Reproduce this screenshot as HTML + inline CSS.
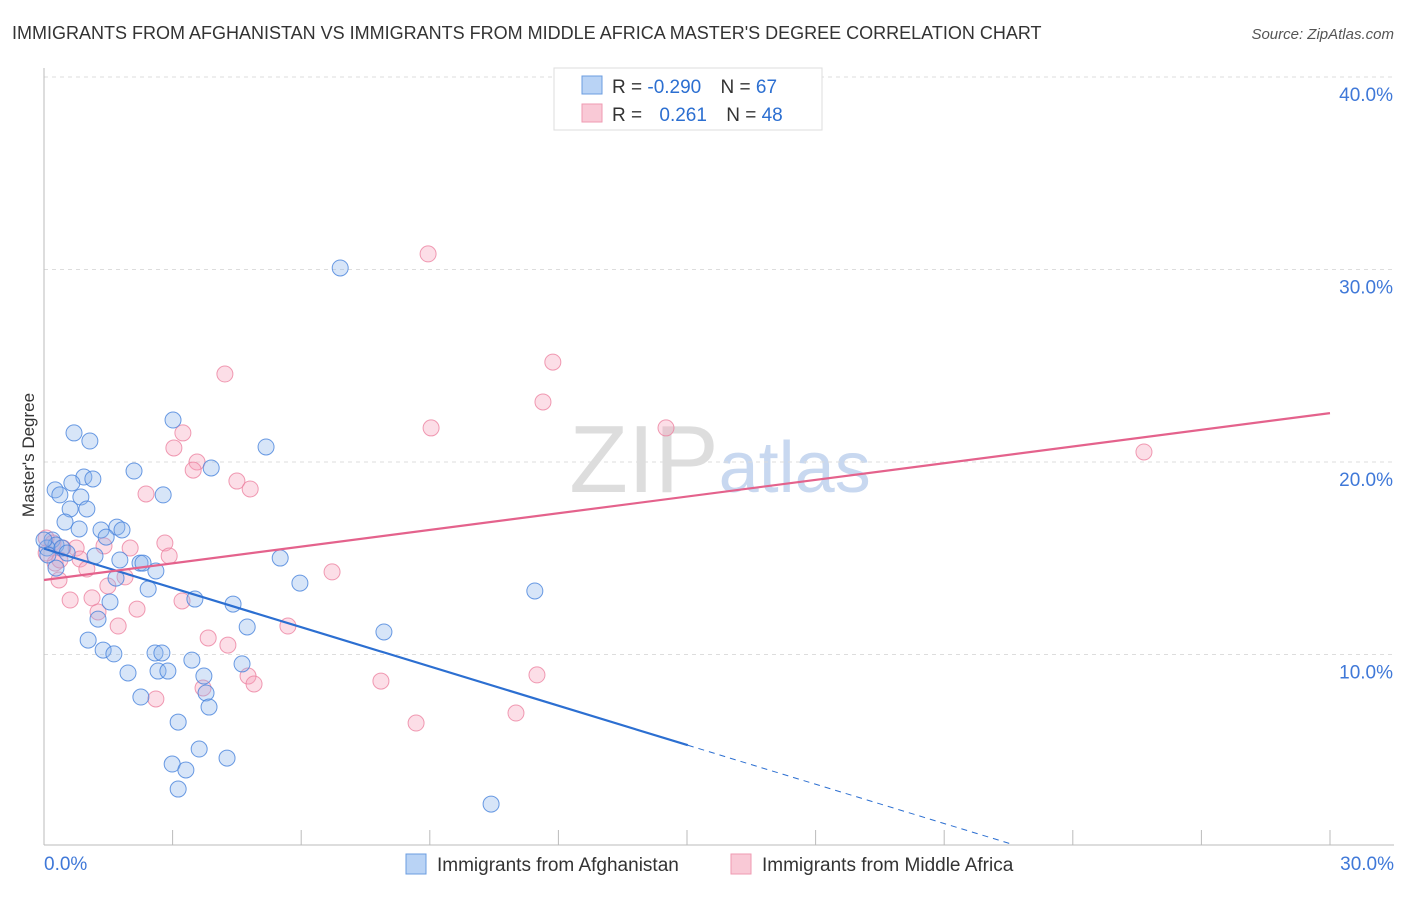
<!DOCTYPE html>
<html><head><meta charset="utf-8"><style>
body{margin:0;background:#fff;font-family:"Liberation Sans",sans-serif;}
svg text{font-family:"Liberation Sans",sans-serif;}
</style></head><body>
<svg id="chart" width="1406" height="892">
<text x="12" y="39" font-size="18" fill="#333">IMMIGRANTS FROM AFGHANISTAN VS IMMIGRANTS FROM MIDDLE AFRICA MASTER'S DEGREE CORRELATION CHART</text>
<text x="1394" y="39" font-size="15" fill="#555" font-style="italic" text-anchor="end">Source: ZipAtlas.com</text>
<text x="720" y="492" font-size="96" fill="#ddd" text-anchor="middle" font-family="Liberation Serif">ZIP<tspan fill="#c8d8f0" font-family="Liberation Sans" font-size="72">atlas</tspan></text>
<text transform="translate(34,455) rotate(-90)" font-size="17" fill="#333" text-anchor="middle">Master's Degree</text>
<g id="grid"></g><g id="pts"></g><g id="lines"></g>
<g>
<rect x="554" y="68" width="268" height="62" fill="#fff" stroke="#ddd"/>
<rect x="582" y="76" width="20" height="18" fill="#b9d3f5" stroke="#6b9de0"/>
<rect x="582" y="104" width="20" height="18" fill="#f9c9d6" stroke="#ef9ab2"/>
<text x="612" y="93" font-size="19" fill="#333">R = <tspan fill="#2c6fd1">-0.290</tspan>  <tspan dx="14">N = </tspan><tspan fill="#2c6fd1">67</tspan></text>
<text x="612" y="121" font-size="19" fill="#333">R = <tspan fill="#2c6fd1" dx="12">0.261</tspan>  <tspan dx="14">N = </tspan><tspan fill="#2c6fd1">48</tspan></text>
</g>
<g>
<rect x="406" y="854" width="20" height="20" fill="#b9d3f5" stroke="#6b9de0"/>
<text x="437" y="871" font-size="19" fill="#333">Immigrants from Afghanistan</text>
<rect x="731" y="854" width="20" height="20" fill="#f9c9d6" stroke="#ef9ab2"/>
<text x="762" y="871" font-size="19" fill="#333">Immigrants from Middle Africa</text>
</g>
</svg>
<script>
const xTicks=[0,3,6,9,12,15,18,21,24,27,30];
const yTicks=[10,20,30,40];
const bluePx=[[340,268],[173,420],[266,447],[74,433],[90,441],[211,468],[134,471],[84,477],[93,479],[72,483],[55,490],[60,495],[163,495],[81,497],[70,509],[87,509],[65,522],[79,529],[117,527],[101,530],[122,530],[106,537],[52,540],[56,545],[47,548],[62,548],[67,553],[95,556],[280,558],[120,560],[140,563],[143,563],[156,571],[56,568],[116,578],[300,583],[148,589],[535,591],[110,602],[195,599],[233,604],[98,619],[247,627],[384,632],[88,640],[103,650],[114,654],[155,653],[162,653],[128,673],[158,671],[168,671],[192,660],[242,664],[204,676],[206,693],[141,697],[209,707],[178,722],[199,749],[172,764],[186,770],[227,758],[178,789],[491,804],[44,540],[48,555]];
const pinkPx=[[428,254],[553,362],[225,374],[543,402],[431,428],[666,428],[183,433],[174,448],[197,462],[193,470],[237,481],[250,489],[146,494],[1144,452],[46,538],[53,543],[63,548],[76,548],[104,546],[130,548],[165,543],[169,556],[80,559],[55,563],[87,569],[332,572],[125,577],[108,586],[59,580],[70,600],[92,598],[182,601],[288,626],[137,609],[98,612],[118,626],[208,638],[228,645],[248,676],[254,684],[203,688],[381,681],[537,675],[156,699],[416,723],[516,713],[46,553],[60,560]];
// data values (x in %, y in %)
const blueX=bluePx.map(p=>+((p[0]-44)/1286*30).toFixed(2));
const blueY=bluePx.map(p=>+((847-p[1])/19.25).toFixed(2));
const pinkX=pinkPx.map(p=>+((p[0]-44)/1286*30).toFixed(2));
const pinkY=pinkPx.map(p=>+((847-p[1])/19.25).toFixed(2));
const blueTrend=[15.5,-0.68];
const pinkTrend=[13.87,0.289];
const NS="http://www.w3.org/2000/svg";
const sx=v=>44+v/30*1286, sy=v=>847-v*19.25;
function mk(tag,a,parent){const e=document.createElementNS(NS,tag);for(const k in a)e.setAttribute(k,a[k]);parent.appendChild(e);return e;}
const grid=document.getElementById('grid');
for(const t of yTicks){
 const l=mk('line',{x1:44,x2:1394,y1:sy(t),y2:sy(t),stroke:'#ddd','stroke-dasharray':'4,4'},grid);
 
 
 const tx=mk('text',{x:1393,y:sy(t)+24,'font-size':19,fill:'#3f78d8','text-anchor':'end'},grid);
 tx.textContent=t.toFixed(1)+'%';
 
 
}
const ax=mk('line',{x1:44,x2:1394,y1:845,y2:845,stroke:'#bbb'},grid);


const ay=mk('line',{x1:44,x2:44,y1:68,y2:845,stroke:'#bbb'},grid);


for(const t of xTicks){
 const l=mk('line',{x1:sx(t),x2:sx(t),y1:830,y2:845,stroke:'#bbb'},grid);
 
 
}
const xl0=mk('text',{x:44,y:870,'font-size':19,fill:'#3f78d8'},grid);xl0.textContent='0.0%';


const xl1=mk('text',{x:1394,y:870,'font-size':19,fill:'#3f78d8','text-anchor':'end'},grid);xl1.textContent='30.0%';


const pts=document.getElementById('pts');
pinkX.forEach((x,i)=>{const c=mk('circle',{cx:sx(x),cy:sy(pinkY[i]),r:8,fill:'rgba(245,160,185,0.35)',stroke:'rgba(236,130,160,0.8)','stroke-width':1},pts);
 
 });
blueX.forEach((x,i)=>{const c=mk('circle',{cx:sx(x),cy:sy(blueY[i]),r:8,fill:'rgba(140,180,235,0.35)',stroke:'rgba(70,130,220,0.8)','stroke-width':1},pts);
 
 });
const lines=document.getElementById('lines');
const bEnd=15.02, bDash=22.6;
const bl=mk('line',{x1:sx(0),y1:sy(blueTrend[0]),x2:sx(bEnd),y2:sy(blueTrend[0]+blueTrend[1]*bEnd),stroke:'#2c6fd1','stroke-width':2.2},lines);


const bd=mk('line',{x1:sx(bEnd),y1:sy(blueTrend[0]+blueTrend[1]*bEnd),x2:sx(bDash),y2:sy(blueTrend[0]+blueTrend[1]*bDash),stroke:'#2c6fd1','stroke-width':1,'stroke-dasharray':'6,5'},lines);


const pl=mk('line',{x1:sx(0),y1:sy(pinkTrend[0]),x2:sx(30),y2:sy(pinkTrend[0]+pinkTrend[1]*30),stroke:'#e4628c','stroke-width':2.2},lines);


</script>
</body></html>
